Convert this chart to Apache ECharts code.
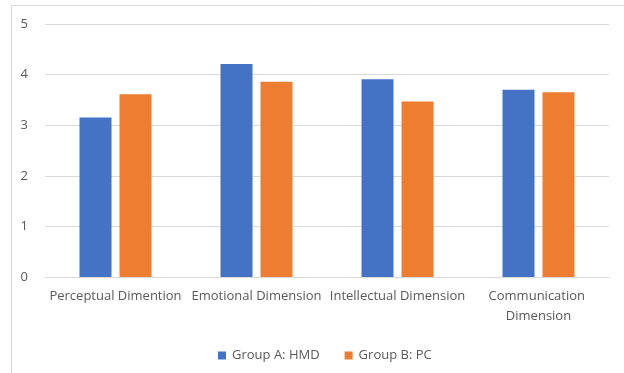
<!DOCTYPE html>
<html>
<head>
<meta charset="utf-8">
<script src="https://cdn.jsdelivr.net/npm/echarts@6/dist/echarts.min.js"></script>
<style>
  html, body { margin: 0; padding: 0; background: #fff; }
  #chart { width: 624px; height: 373px; }
</style>
</head>
<body>
<div id="chart"></div>
<script>
// Mean scores per dimension for the two groups
const categories = ['Perceptual Dimention', 'Emotional Dimension', 'Intellectual Dimension', 'Communication Dimension'];
const seriesNames = ['Group A: HMD', 'Group B: PC'];
const groupA = [3.15, 4.21, 3.91, 3.70];
const groupB = [3.61, 3.86, 3.47, 3.65];
const yTicks = [0, 1, 2, 3, 4, 5];

const FONT = 'Open Sans';
const TEXT = '#595959';
const chart = echarts.init(document.getElementById('chart'), null, { renderer: 'canvas' });

chart.setOption({
  animation: false,
  textStyle: { fontFamily: FONT },
  graphic: [{
    type: 'rect',
    shape: { x: 11.5, y: 5.5, width: 640, height: 400 },
    style: { fill: 'none', stroke: '#d9d9d9', lineWidth: 1 },
    silent: true,
    z: -1
  }],
  grid: { left: 45, right: 15, top: 24, bottom: 96 },
  legend: {
    data: seriesNames,
    top: 344,
    left: 213,
    itemWidth: 8,
    itemHeight: 8,
    itemGap: 25,
    icon: 'rect',
    textStyle: { color: TEXT, fontSize: 13, fontFamily: FONT, padding: [0, 0, 0, 1] }
  },
  xAxis: {
    type: 'category',
    data: categories,
    axisLine: { lineStyle: { color: '#d9d9d9' } },
    axisTick: { show: false },
    axisLabel: {
      color: TEXT,
      fontSize: 13,
      fontFamily: FONT,
      interval: 0,
      margin: 9,
      lineHeight: 20,
      width: 141,
      overflow: 'break'
    }
  },
  yAxis: {
    type: 'value',
    min: yTicks[0],
    max: yTicks[yTicks.length - 1],
    interval: 1,
    axisLine: { show: false },
    axisTick: { show: false },
    splitLine: { lineStyle: { color: '#d9d9d9' } },
    axisLabel: { color: TEXT, fontSize: 13, fontFamily: FONT, margin: 17 }
  },
  series: [
    {
      name: seriesNames[0],
      type: 'bar',
      data: groupA,
      barWidth: 32,
      barGap: '25%',
      itemStyle: { color: '#4472C4' }
    },
    {
      name: seriesNames[1],
      type: 'bar',
      data: groupB,
      barWidth: 32,
      barGap: '25%',
      itemStyle: { color: '#ED7D31' }
    }
  ]
});
</script>
</body>
</html>
